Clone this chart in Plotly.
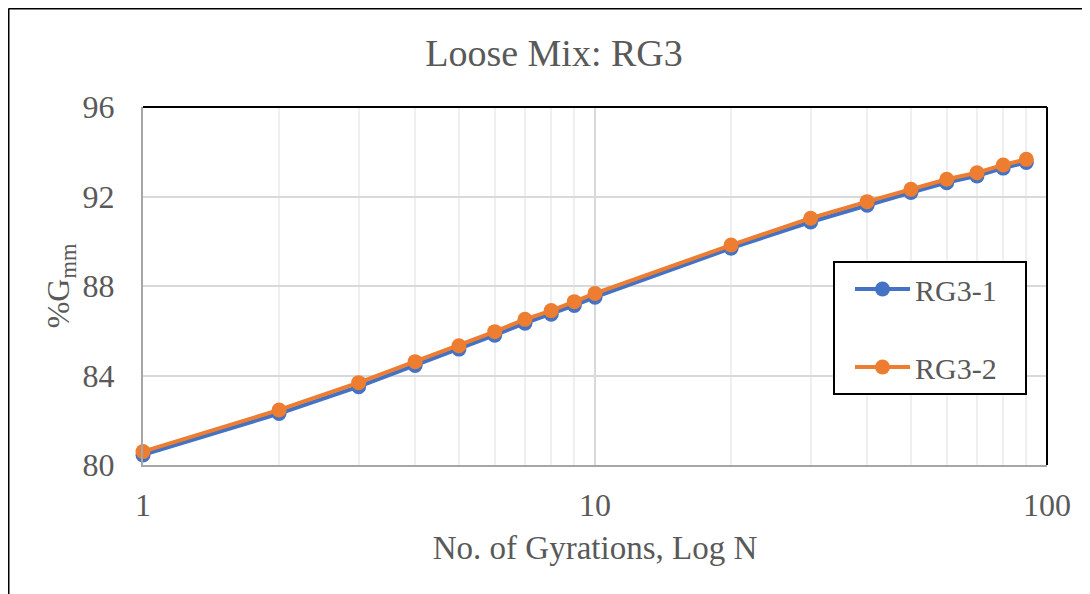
import plotly.graph_objects as go

N = [1, 2, 3, 4, 5, 6, 7, 8, 9, 10, 20, 30, 40, 50, 60, 70, 80, 90]
rg3_1 = [80.45, 82.30, 83.50, 84.45, 85.18, 85.80, 86.34, 86.74, 87.13, 87.50,
         89.69, 90.86, 91.61, 92.18, 92.62, 92.92, 93.27, 93.52]
rg3_2 = [80.60, 82.46, 83.68, 84.62, 85.33, 85.96, 86.51, 86.90, 87.30, 87.67,
         89.83, 91.03, 91.77, 92.32, 92.77, 93.06, 93.41, 93.66]

x_ticks = [1, 10, 100]
x_minor = [2, 3, 4, 5, 6, 7, 8, 9, 20, 30, 40, 50, 60, 70, 80, 90]
y_ticks = [80, 84, 88, 92, 96]

FONT = "Liberation Serif, Times New Roman, serif"
GREY = "#595959"
PAD = "\u00a0\u00a0\u00a0"

fig = go.Figure()
fig.add_trace(go.Scatter(x=N, y=rg3_1, name="RG3-1" + PAD, mode="lines+markers",
                         line=dict(color="#4472C4", width=4),
                         marker=dict(size=15, color="#4472C4"),
                         cliponaxis=False, legendgroup="a"))
fig.add_trace(go.Scatter(x=N, y=rg3_2, name="RG3-2" + PAD, mode="lines+markers",
                         line=dict(color="#ED7D31", width=4),
                         marker=dict(size=15, color="#ED7D31"),
                         cliponaxis=False, legendgroup="b"))

# page has an 8px body margin, so the figure is sized/offset to compensate
OFF = 8
W, H = 1090 - OFF, 594 - OFF
PL, PR, PT, PB = 143, 1047, 107, 465  # plot area in page pixels
L, T = PL - OFF, PT - OFF
R = W + OFF - PR
B = H + OFF - PB
pw, ph = PR - PL, PB - PT


def px_x(p):
    return (p - PL) / pw


def px_y(p):
    return (PB - p) / ph


shapes = [
    dict(type="line", xref="paper", yref="paper", x0=0, x1=1, y0=1, y1=1,
         line=dict(color="black", width=2)),
    dict(type="line", xref="paper", yref="paper", x0=1, x1=1, y0=0, y1=1,
         line=dict(color="black", width=2)),
    dict(type="line", xref="paper", yref="paper", x0=px_x(8.5), x1=px_x(1100),
         y0=px_y(8.5), y1=px_y(8.5), line=dict(color="black", width=2)),
    dict(type="line", xref="paper", yref="paper", x0=px_x(8.5), x1=px_x(8.5),
         y0=px_y(8.5), y1=px_y(610), line=dict(color="black", width=2)),
]

fig.update_layout(
    width=W, height=H,
    margin=dict(l=L, r=R, t=T, b=B, pad=0),
    paper_bgcolor="white", plot_bgcolor="white",
    font=dict(family=FONT, color=GREY, size=32),
    title=dict(text="Loose Mix: RG3", x=px_x(554), xref="paper", xanchor="center",
               y=1 - (53 - OFF) / H, yanchor="middle", font=dict(size=38, color=GREY)),
    xaxis=dict(type="log", range=[0, 2], tickvals=x_ticks, ticktext=[str(v) for v in x_ticks],
               showgrid=True, gridcolor="#d9d9d9", gridwidth=2,
               minor=dict(tickvals=x_minor, showgrid=True, gridcolor="#efefef", gridwidth=2),
               showline=True, linecolor="#a6a6a6", linewidth=2,
               ticks="", ticklabelstandoff=11, zeroline=False,
               title=dict(text="No. of Gyrations, Log N", standoff=13, font=dict(size=33))),
    yaxis=dict(range=[80, 96], tickvals=y_ticks, showgrid=True, gridcolor="#d9d9d9", gridwidth=2,
               showline=True, linecolor="#a6a6a6", linewidth=2, ticks="",
               ticklabelstandoff=20, zeroline=False,
               title=dict(text="%G<sub>mm</sub>", standoff=3, font=dict(size=32))),
    legend=dict(x=px_x(833), y=px_y(261), xanchor="left", yanchor="top",
                bordercolor="black", borderwidth=2, bgcolor="white",
                itemwidth=55, tracegroupgap=36, traceorder="grouped", indentation=15,
                font=dict(size=30, color=GREY)),
    shapes=shapes,
    showlegend=True,
)

fig.write_html("out.html")
